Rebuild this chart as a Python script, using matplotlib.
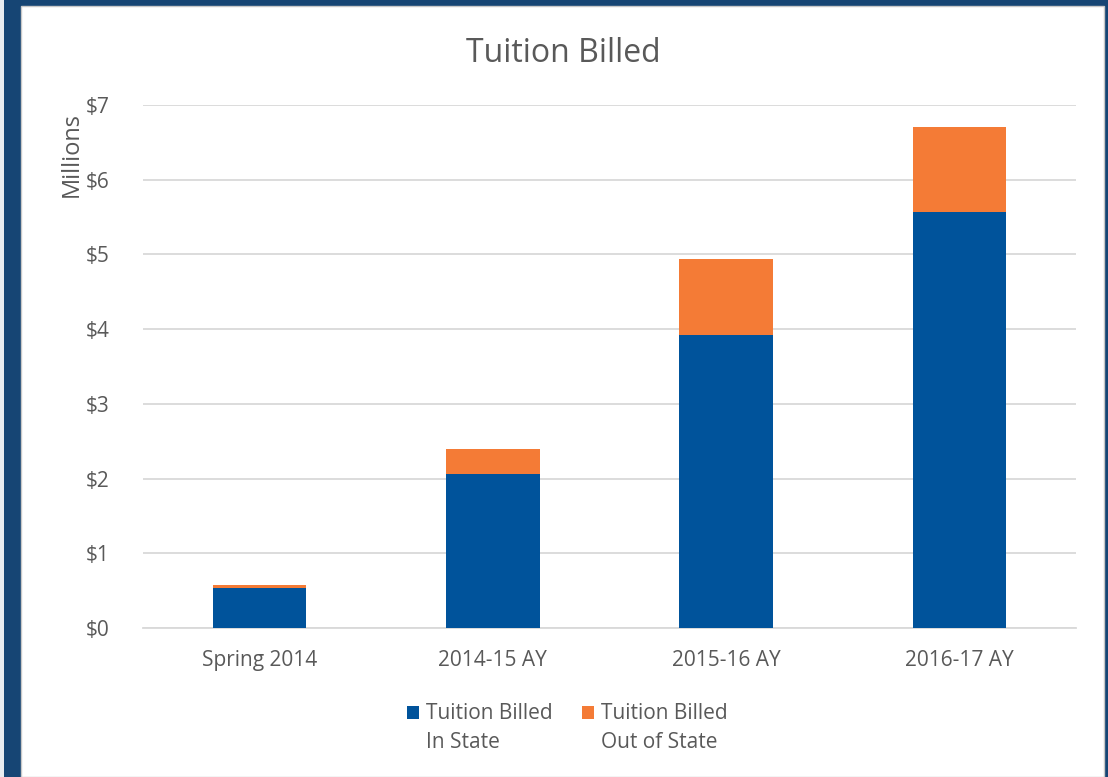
import matplotlib.pyplot as plt
from matplotlib.patches import Rectangle
import numpy as np

plt.rcParams['font.family'] = ['Open Sans', 'DejaVu Sans']

categories = ['Spring 2014', '2014-15 AY', '2015-16 AY', '2016-17 AY']
in_state = [0.54, 2.06, 3.92, 5.57]
out_state = [0.03, 0.34, 1.02, 1.14]
yticks = [0, 1, 2, 3, 4, 5, 6, 7]
ytick_labels = ['$' + str(t) for t in yticks]
series_labels = ['Tuition Billed\nIn State', 'Tuition Billed\nOut of State']

blue = '#00539B'
orange = '#F47B36'
text_col = '#595959'

fig = plt.figure(figsize=(11.08, 7.77), dpi=100)
fig.patch.set_facecolor('#164574')

# white slide panel inside the dark frame
W, H = 1108.0, 777.0
fig.patches.append(Rectangle((0, 0), 4 / W, 1, transform=fig.transFigure,
                             facecolor='#e8ecf0', edgecolor='none', zorder=-2))
fig.patches.append(Rectangle((21 / W, 0), (1104 - 21) / W, (H - 6) / H,
                             transform=fig.transFigure, facecolor='white',
                             edgecolor='#c8c8c8', linewidth=1.0, zorder=-2))

ax = fig.add_axes([143 / W, (H - 628) / H, (1076 - 143) / W, (628 - 105) / H])
ax.set_facecolor('none')
ax.set_zorder(2)

x = np.arange(len(categories))
ax.bar(x, in_state, width=0.4, color=blue, zorder=3)
ax.bar(x, out_state, width=0.4, bottom=in_state, color=orange, zorder=3)

ax.set_xlim(-0.5, 3.5)
ax.set_ylim(0, 7)
ax.set_yticks(yticks)
ax.set_yticklabels(ytick_labels)
ax.set_xticks(x)
ax.set_xticklabels(categories)
ax.tick_params(axis='both', length=0, labelsize=15, colors=text_col)
ax.tick_params(axis='y', pad=24)
ax.tick_params(axis='x', pad=16)
ax.grid(axis='y', color='#d9d9d9', linewidth=1.3, zorder=0)
for s in ['top', 'right', 'left']:
    ax.spines[s].set_visible(False)
ax.spines['bottom'].set_color('#d9d9d9')
ax.spines['bottom'].set_linewidth(1.3)

ax.set_ylabel('Millions', fontsize=17, color=text_col)
ax.yaxis.set_label_coords(-0.064, 0.905)

fig.text(563 / W, 1 - 53 / H, 'Tuition Billed', ha='center', va='center',
         fontsize=23, color=text_col)

# legend: colour square beside the first line of a two-line label
for lx, col, lab in zip([407, 582], [blue, orange], series_labels):
    fig.patches.append(Rectangle((lx / W, 1 - 719 / H), 12 / W, 13 / H,
                                 transform=fig.transFigure, facecolor=col,
                                 edgecolor='none'))
    fig.text((lx + 19) / W, 1 - 703 / H, lab, ha='left', va='top',
             fontsize=15, color=text_col, linespacing=1.5)

fig.savefig('out.png', dpi=100, facecolor=fig.get_facecolor())
